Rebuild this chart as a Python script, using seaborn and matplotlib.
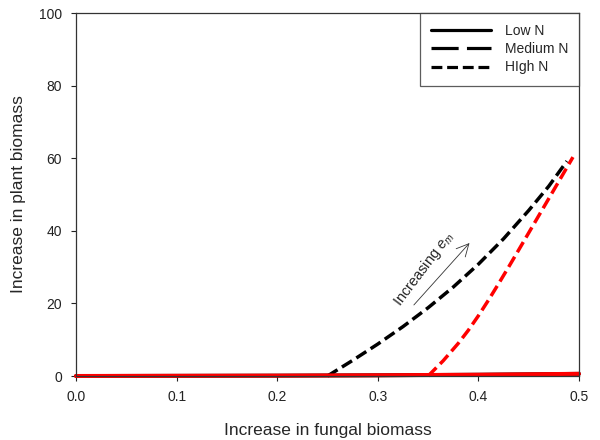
import matplotlib
matplotlib.use("Agg")
import matplotlib.pyplot as plt
from matplotlib.lines import Line2D
import seaborn as sns
import pandas as pd

# Plant biomass response curves vs. fungal biomass
low_x = [0.0, 0.1, 0.2, 0.3, 0.4, 0.5]
low_y = [0.0, 0.05, 0.1, 0.2, 0.35, 0.6]

medium_x = [0.25, 0.275, 0.30, 0.325, 0.35, 0.375, 0.40, 0.425, 0.45,
            0.47, 0.488]
medium_y = [0.0, 4.3, 8.8, 13.6, 18.8, 24.5, 30.8, 37.8, 45.6,
            52.3, 59.2]

high_x = [0.35, 0.365, 0.38, 0.39, 0.40, 0.41, 0.42, 0.43, 0.44,
          0.455, 0.47, 0.482, 0.494]
high_y = [0.0, 4.2, 9.0, 12.6, 16.6, 20.9, 25.4, 30.0, 34.7,
          41.8, 48.9, 54.6, 60.3]

legend_labels = ["Low N", "Medium N", "HIgh N"]
x_ticks = [0.0, 0.1, 0.2, 0.3, 0.4, 0.5]
y_ticks = [0, 20, 40, 60, 80, 100]

sns.set_style("ticks")
plt.rcParams["font.family"] = ["Liberation Sans", "DejaVu Sans"]
plt.rcParams["mathtext.fontset"] = "custom"
plt.rcParams["mathtext.rm"] = "Liberation Sans"
plt.rcParams["mathtext.it"] = "Liberation Sans:italic"

fig = plt.figure(figsize=(6, 4.4), dpi=100)
ax = fig.add_axes([76 / 600, 1 - 376 / 440, 503 / 600, 363 / 440])

short_dash = (0, (3.4, 1.5))
long_dash = (0, (8.5, 2.6))

medium_df = pd.DataFrame({"x": medium_x, "y": medium_y})
high_df = pd.DataFrame({"x": high_x, "y": high_y})
low_df = pd.DataFrame({"x": low_x, "y": low_y})

sns.lineplot(data=medium_df, x="x", y="y", ax=ax, color="black",
             linewidth=2.5, linestyle=short_dash, clip_on=False)
sns.lineplot(data=high_df, x="x", y="y", ax=ax, color="#ff0000",
             linewidth=2.5, linestyle=short_dash, clip_on=False)
sns.lineplot(data=low_df, x="x", y="y", ax=ax, color="black",
             linewidth=2.8, clip_on=False)
sns.lineplot(data=low_df, x="x", y="y", ax=ax, color="#ff0000",
             linewidth=2.9, clip_on=False)

ax.set_xlim(0, 0.5)
ax.set_ylim(0, 100)
ax.set_xticks(x_ticks)
ax.set_xticklabels([f"{t:.1f}" for t in x_ticks])
ax.set_yticks(y_ticks)
ax.set_yticklabels([str(t) for t in y_ticks])

for side in ["left", "right", "top", "bottom"]:
    ax.spines[side].set_visible(True)
    ax.spines[side].set_color("#333333")
    ax.spines[side].set_linewidth(0.9)

ax.tick_params(axis="both", direction="out", length=3.6, width=0.8,
               pad=6.5, labelsize=10, colors="#222222",
               top=False, right=False)
ax.set_xlabel("Increase in fungal biomass", fontsize=12.5, labelpad=14)
ax.set_ylabel("Increase in plant biomass", fontsize=12.5, labelpad=9)

# Arrow showing direction of increasing e_m
ax.annotate("", xy=(0.393, 37.2), xytext=(0.334, 19.0),
            arrowprops=dict(arrowstyle="->", lw=0.6, color="#333333",
                            mutation_scale=22))
ax.text(0.346, 29.5, "Increasing $e_m$", fontsize=10.5, rotation=53,
        ha="center", va="center", rotation_mode="anchor")

handles = [
    Line2D([], [], color="black", linewidth=2.3, linestyle="-"),
    Line2D([], [], color="black", linewidth=2.3, linestyle=long_dash),
    Line2D([], [], color="black", linewidth=2.3, linestyle=short_dash),
]
leg = ax.legend(handles, legend_labels, loc="upper right",
                bbox_to_anchor=(1.0, 1.0), borderaxespad=0, fontsize=10,
                handlelength=4.3, handletextpad=1.0, labelspacing=0.3,
                borderpad=0.8, fancybox=False, frameon=True)
leg.get_frame().set_edgecolor("#333333")
leg.get_frame().set_linewidth(0.9)

fig.savefig("out.png", dpi=100)
